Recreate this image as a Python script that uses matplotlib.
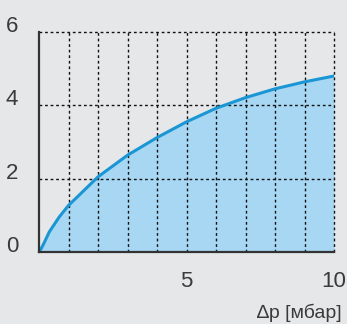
import matplotlib.pyplot as plt

# Values
dp = [0, 0.08, 0.18, 0.35, 0.69, 1, 2, 3, 4, 5, 6, 7, 8, 9, 10]
flow = [0, 0.1, 0.26, 0.55, 0.96, 1.27, 2.05, 2.64, 3.12, 3.55, 3.92, 4.21, 4.45, 4.64, 4.80]
x_ticks = [5, 10]
y_ticks = [0, 2, 4, 6]
x_label = "\u2206p [мбар]"

BG = "#e6e7e9"
FILL = "#a8d7f4"
LINE = "#1b96d4"
TEXT = "#3a3a3a"

plt.rcParams['font.family'] = ['Liberation Sans', 'DejaVu Sans']

fig = plt.figure(figsize=(3.47, 3.24), dpi=100, facecolor=BG)
ax = fig.add_axes([39 / 347, 72 / 324, 295 / 347, 220 / 324], facecolor=BG)

ax.fill_between(dp, flow, 0, color=FILL, lw=0, zorder=1)
ax.plot(dp, flow, color=LINE, lw=2.2, zorder=4, solid_capstyle='round',
        solid_joinstyle='round')

ax.set_xlim(0, 10)
ax.set_ylim(0, 6)

for x in range(1, 11):
    ax.axvline(x, color="#111111", lw=1.0, ls=(0, (2, 2)), zorder=3, clip_on=False)
for y in y_ticks[1:]:
    ax.axhline(y, color="#111111", lw=1.0, ls=(0, (2, 2)), zorder=3, clip_on=False)

for s in ("top", "right"):
    ax.spines[s].set_visible(False)
for s in ("left", "bottom"):
    ax.spines[s].set_color("#333333")
    ax.spines[s].set_linewidth(1.6)
    ax.spines[s].set_zorder(5)

ax.set_xticks(x_ticks)
ax.set_yticks(y_ticks)
ax.tick_params(length=0, labelsize=16, labelcolor=TEXT)
ax.tick_params(axis='x', pad=13.5)
ax.tick_params(axis='y', pad=15)
for lab in ax.get_yticklabels():
    lab.set_verticalalignment('baseline')

fig.text(342 / 347, 1 - 318 / 324, x_label, ha='right', va='baseline',
         fontsize=14, color=TEXT)

fig.savefig("out.png", dpi=100, facecolor=BG)
